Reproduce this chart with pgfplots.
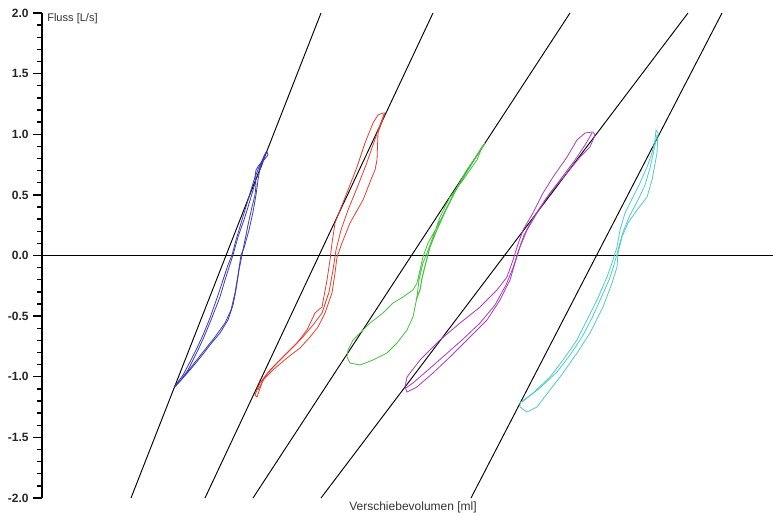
\documentclass[border=0pt]{standalone}
\usepackage{fontspec}
\setmainfont{Liberation Sans}
\usepackage{pgfplots}
\pgfplotsset{compat=1.18}
\definecolor{cblue}{RGB}{60,60,178}
\definecolor{cred}{RGB}{228,62,48}
\definecolor{cgreen}{RGB}{70,192,62}
\definecolor{cpurple}{RGB}{168,58,188}
\definecolor{ccyan}{RGB}{78,202,200}
\begin{document}
\begin{tikzpicture}
\begin{axis}[
 x=0.75pt, y=90.9375pt,
 xmin=42, xmax=773, ymin=-2, ymax=2,
 axis x line=none, axis y line=left,
 axis line style={-, line width=1.4pt, black},
 ytick={-2,-1.5,-1,-0.5,0,0.5,1,1.5,2},
 minor y tick num=4,
 tick align=outside,
 major tick length=6.5pt, minor tick length=3.5pt,
 tick style={black, line width=1.1pt},
 yticklabel style={font=\fontsize{9}{10}\selectfont\bfseries, text=black!85,
   /pgf/number format/.cd, fixed, fixed zerofill, precision=1, assume math mode=true},
 clip=false,
 no markers,
]
% reference lines
\addplot[black, line width=1.1pt] coordinates {(42,0) (773,0)};
\addplot[black, line width=0.7pt] coordinates {(131,-2) (321,2)};
\addplot[black, line width=0.7pt] coordinates {(205,-2) (433,2)};
\addplot[black, line width=0.7pt] coordinates {(253,-2) (570,2)};
\addplot[black, line width=0.7pt] coordinates {(321,-2) (688,2)};
\addplot[black, line width=0.7pt] coordinates {(471,-2) (722,2)};
% blue loop
\addplot[cblue, line width=0.6pt] coordinates {
(174,-1.084) (181,-1.027) (188,-0.944) (193,-0.862) (198,-0.779) (204,-0.672) (211,-0.532) (220,-0.342) (225,-0.202) (233,0.004) (238,0.153) (245,0.318) (251,0.482) (256,0.623) (262,0.746) (265,0.829) (267,0.854)
(268,0.829) (264,0.788) (259,0.746) (256,0.705) (255,0.647) (256,0.581) (255,0.499) (252,0.400) (248,0.252) (245,0.128) (242,0.004) (239,-0.120) (236,-0.284) (233,-0.408) (228,-0.532) (220,-0.639) (210,-0.738) (200,-0.845) (190,-0.944) (181,-1.027) (175,-1.076)};
\addplot[cblue, line width=0.6pt] coordinates {
(175,-1.076) (183,-0.986) (190,-0.878) (197,-0.763) (203,-0.656) (210,-0.515) (217,-0.351) (223,-0.202) (228,-0.078) (232,0.004) (236,0.128) (242,0.293) (248,0.458) (254,0.623) (259,0.730) (264,0.821) (266,0.854)
(264,0.804) (260,0.722) (258,0.623) (256,0.499) (253,0.359) (249,0.210) (244,0.062) (241,0.004) (238,-0.161) (235,-0.309) (231,-0.450) (225,-0.557) (215,-0.672) (203,-0.796) (192,-0.911) (182,-1.018) (175,-1.084)};
% red loop
\addplot[cred, line width=0.6pt] coordinates {
(383,1.175) (378,1.159) (373,1.093) (365,0.928) (357,0.730) (348,0.540) (340,0.375) (335,0.268) (332,0.103) (330,-0.037) (327,-0.202) (322,-0.425) (315,-0.474) (307,-0.614) (297,-0.722) (283,-0.837) (270,-0.944) (260,-1.051) (255,-1.150) (257,-1.167)
(263,-1.027) (273,-0.944) (287,-0.845) (300,-0.763) (310,-0.672) (318,-0.590) (325,-0.474) (332,-0.309) (335,-0.144) (337,-0.012) (342,0.103) (350,0.268) (363,0.458) (372,0.647) (375,0.705) (377,0.788) (378,1.010) (385,1.175) (383,1.175)};
\addplot[cred, line width=0.6pt] coordinates {
(384,1.167) (379,1.052) (373,0.911) (366,0.746) (357,0.557) (348,0.375) (341,0.210) (336,0.045) (333,-0.120) (329,-0.301) (322,-0.474) (313,-0.573) (302,-0.680) (290,-0.779) (277,-0.887) (266,-0.986) (258,-1.109)};
% green loop
\addplot[cgreen, line width=0.6pt] coordinates {
(483,0.911) (470,0.730) (457,0.565) (447,0.400) (437,0.235) (428,0.103) (423,-0.012) (420,-0.120) (417,-0.227) (413,-0.284) (403,-0.342) (393,-0.392) (383,-0.474) (370,-0.557) (360,-0.639) (353,-0.697) (348,-0.779) (347,-0.837)
(350,-0.887) (360,-0.903) (373,-0.862) (387,-0.804) (397,-0.722) (407,-0.614) (413,-0.507) (417,-0.342) (419,-0.202) (423,-0.062) (427,0.021) (433,0.153) (440,0.318) (450,0.482) (463,0.623) (477,0.788) (483,0.911)};
\addplot[cgreen, line width=0.8pt] coordinates {
(485,0.928) (476,0.812) (465,0.680) (455,0.524) (445,0.359) (436,0.194) (430,0.070) (426,-0.054) (422,-0.186) (420,-0.284) (416,-0.367)};
% purple loop
\addplot[cpurple, line width=0.6pt] coordinates {
(405,-1.084) (407,-1.002) (420,-0.862) (440,-0.697) (460,-0.557) (480,-0.425) (497,-0.284) (507,-0.177) (513,-0.037) (517,0.070) (523,0.210) (533,0.351) (543,0.515) (553,0.647) (567,0.812) (577,0.953) (585,1.010) (593,1.019)
(595,0.994) (590,0.895) (580,0.812) (567,0.680) (550,0.515) (537,0.351) (527,0.210) (520,0.070) (515,-0.062) (510,-0.202) (500,-0.367) (487,-0.532) (467,-0.697) (450,-0.837) (433,-0.969) (417,-1.084) (407,-1.126) (405,-1.084)};
\addplot[cpurple, line width=0.6pt] coordinates {
(592,1.010) (585,0.911) (575,0.788) (560,0.623) (545,0.458) (533,0.309) (524,0.169) (518,0.029) (513,-0.103) (506,-0.243) (495,-0.408) (480,-0.557) (462,-0.697) (445,-0.821) (428,-0.944) (413,-1.051) (406,-1.092)};
% cyan loop
\addplot[ccyan, line width=0.6pt] coordinates {
(520,-1.216) (533,-1.134) (550,-1.002) (563,-0.862) (577,-0.697) (587,-0.532) (597,-0.367) (607,-0.177) (613,-0.037) (617,0.070) (620,0.210) (625,0.351) (633,0.482) (640,0.598) (647,0.730) (652,0.845) (655,0.953) (656,1.035)
(658,1.010) (657,0.845) (652,0.623) (647,0.482) (637,0.375) (628,0.268) (622,0.153) (618,0.021) (617,-0.095) (612,-0.227) (603,-0.425) (590,-0.639) (577,-0.804) (563,-0.969) (550,-1.109) (537,-1.249) (527,-1.291) (520,-1.249) (520,-1.216)};
\addplot[ccyan, line width=0.6pt] coordinates {
(522,-1.208) (540,-1.092) (557,-0.961) (570,-0.821) (582,-0.672) (592,-0.515) (601,-0.351) (609,-0.202) (614,-0.078) (618,0.045) (623,0.194) (630,0.334) (638,0.458) (645,0.581) (650,0.722) (654,0.870) (657,0.994)};
% labels
\node[anchor=west, font=\fontsize{8.3}{9}\selectfont, text=black!80, inner sep=0pt] at (axis cs:47,1.950) {Fluss [L/s]};
\node[anchor=center, font=\fontsize{9}{10}\selectfont, text=black!80, inner sep=0pt] at (axis cs:413,-2.074) {Verschiebevolumen [ml]};
\coordinate (bbsw) at (axis cs:0,-2.1402);
\coordinate (bbne) at (axis cs:773,2.1072);
\end{axis}
\pgfresetboundingbox
\path[use as bounding box] (bbsw) rectangle (bbne);
\end{tikzpicture}
\end{document}
